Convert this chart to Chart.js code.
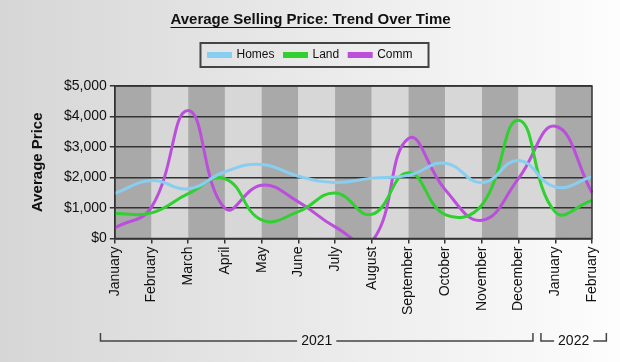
<!DOCTYPE html>
<html>
<head>
<meta charset="utf-8">
<script src="https://cdn.jsdelivr.net/npm/chart.js@4.4.1/dist/chart.umd.min.js"></script>
<style>
  html, body { margin: 0; padding: 0; }
  body { width: 620px; height: 362px; overflow: hidden; }
  #wrap { position: relative; width: 620px; height: 362px; }
</style>
</head>
<body>
<div id="wrap"><canvas id="myChart" width="620" height="362"></canvas></div>
<script>
const months = ['January', 'February', 'March', 'April', 'May', 'June', 'July', 'August',
  'September', 'October', 'November', 'December', 'January', 'February'];
const homes = [1480, 1900, 1630, 2190, 2430, 2040, 1840, 1980, 2070, 2470, 1830, 2560, 1690, 2020];
const land = [820, 840, 1470, 1960, 610, 880, 1490, 790, 2160, 780, 1100, 3880, 870, 1250];
const comm = [350, 1030, 4200, 990, 1750, 1200, 380, -100, 3280, 1600, 600, 1970, 3680, 1500];
const yTicks = [0, 1000, 2000, 3000, 4000, 5000];
// years below the months: label + how many months it covers
const yearLabels = ['2021', '2022'];
const yearSpans = [12, 2];

const FONT = "'Liberation Sans', Arial, sans-serif";
const DARK = '#333';

// space between legend and plot
const legendGap = {
  id: 'legendGap',
  beforeInit(chart) {
    const fit = chart.legend.fit;
    chart.legend.fit = function () {
      fit.bind(chart.legend)();
      this.height += 15;
    };
  },
};

const decor = {
  id: 'decor',
  beforeDraw(chart) {
    const { ctx, width, height, chartArea } = chart;
    const x = chart.scales.x;
    ctx.save();
    const g = ctx.createLinearGradient(0, 0, width, 0);
    g.addColorStop(0, '#d6d6d6');
    g.addColorStop(1, '#fdfdfd');
    ctx.fillStyle = g;
    ctx.fillRect(0, 0, width, height);
    // alternating bands between months
    for (let i = 0; i < months.length - 1; i++) {
      const x0 = x.getPixelForValue(i);
      const x1 = x.getPixelForValue(i + 1);
      ctx.fillStyle = i % 2 === 0 ? '#a9a9a9' : '#d7d7d7';
      ctx.fillRect(x0, chartArea.top, x1 - x0, chartArea.bottom - chartArea.top);
    }
    ctx.restore();
  },
  afterDraw(chart) {
    const { ctx, chartArea } = chart;
    const x = chart.scales.x;
    ctx.save();
    // plot frame
    ctx.strokeStyle = DARK;
    ctx.lineWidth = 1.5;
    ctx.strokeRect(chartArea.left, chartArea.top, chartArea.right - chartArea.left, chartArea.bottom - chartArea.top);

    // title underline
    const tb = chart.titleBlock;
    ctx.font = 'bold 15px ' + FONT;
    const tw = ctx.measureText(chart.options.plugins.title.text).width;
    const tcx = tb.left + tb.width / 2;
    const ty = tb.top + tb.options.padding.top + 16.5;
    ctx.strokeStyle = '#111';
    ctx.lineWidth = 1.2;
    ctx.beginPath();
    ctx.moveTo(tcx - tw / 2, ty);
    ctx.lineTo(tcx + tw / 2, ty);
    ctx.stroke();

    // legend frame
    const hb = chart.legend.legendHitBoxes;
    if (hb.length) {
      const l = hb[0].left - 8;
      const r = hb[hb.length - 1].left + hb[hb.length - 1].width + 16;
      const t = hb[0].top - 6;
      const b = hb[0].top + hb[0].height + 6;
      ctx.strokeStyle = '#444';
      ctx.lineWidth = 2;
      ctx.strokeRect(l, t, r - l, b - t);
    }

    // year brackets
    const step = x.getPixelForValue(1) - x.getPixelForValue(0);
    const by = 341;
    ctx.font = '14px ' + FONT;
    ctx.fillStyle = '#111';
    ctx.textAlign = 'center';
    ctx.textBaseline = 'middle';
    ctx.strokeStyle = '#444';
    ctx.lineWidth = 1.5;
    let start = 0;
    yearLabels.forEach((lab, k) => {
      const end = start + yearSpans[k] - 1;
      const left = x.getPixelForValue(start) - step / 2 + 4;
      const right = x.getPixelForValue(end) + step / 2 - 4;
      const mid = (left + right) / 2;
      const half = ctx.measureText(lab).width / 2 + 4;
      ctx.beginPath();
      ctx.moveTo(left, by - 8);
      ctx.lineTo(left, by);
      ctx.lineTo(mid - half, by);
      ctx.moveTo(mid + half, by);
      ctx.lineTo(right, by);
      ctx.lineTo(right, by - 8);
      ctx.stroke();
      ctx.fillText(lab, mid, by);
      start = end + 1;
    });
    ctx.restore();
  },
};

function series(label, data, color) {
  return {
    label,
    data,
    borderColor: color,
    backgroundColor: color,
    borderWidth: 3,
    pointRadius: 0,
    pointHoverRadius: 0,
    tension: 0.45,
    fill: false,
  };
}

const ctx = document.getElementById('myChart').getContext('2d');
const myChart = new Chart(ctx, {
  type: 'line',
  data: {
    labels: months,
    datasets: [
      series('Homes', homes, '#87cef0'),
      series('Land', land, '#2fd02f'),
      series('Comm', comm, '#bb4fdb'),
    ],
  },
  options: {
    responsive: false,
    animation: false,
    layout: { padding: { left: 29, right: 28, top: 0, bottom: 44 } },
    plugins: {
      tooltip: { enabled: false },
      title: {
        display: true,
        text: 'Average Selling Price: Trend Over Time',
        color: '#111',
        font: { family: FONT, size: 15, weight: 'bold' },
        padding: { top: 11, bottom: 10 },
      },
      legend: {
        display: true,
        labels: {
          color: '#111',
          font: { family: FONT, size: 12 },
          boxWidth: 22,
          boxHeight: 3,
          padding: 10,
        },
      },
    },
    scales: {
      x: {
        offset: false,
        grid: { display: true, drawOnChartArea: false, drawTicks: true, tickLength: 5, color: DARK, lineWidth: 1.5 },
        border: { display: true, color: DARK, width: 1.5 },
        ticks: {
          color: '#111',
          font: { family: FONT, size: 14 },
          minRotation: 90,
          maxRotation: 90,
          autoSkip: false,
          padding: 3,
        },
      },
      y: {
        min: yTicks[0],
        max: yTicks[yTicks.length - 1],
        afterBuildTicks(scale) {
          scale.ticks = yTicks.map((v) => ({ value: v }));
        },
        grid: { color: DARK, lineWidth: 1.5, tickLength: 5 },
        border: { display: true, color: DARK, width: 1.5 },
        ticks: {
          color: '#111',
          font: { family: FONT, size: 14 },
          padding: 3,
          callback: (v) => '$' + Number(v).toLocaleString('en-US'),
        },
        title: {
          display: true,
          text: 'Average Price',
          color: '#111',
          font: { family: FONT, size: 15, weight: 'bold' },
          padding: { top: 0, bottom: 14 },
        },
      },
    },
  },
  plugins: [legendGap, decor],
});
</script>
</body>
</html>
